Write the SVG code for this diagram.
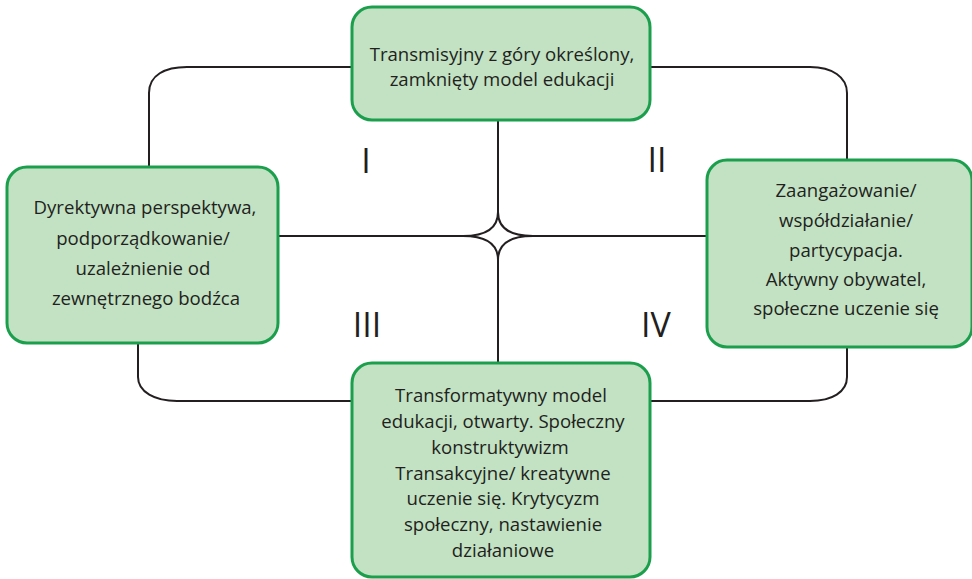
<svg xmlns="http://www.w3.org/2000/svg" width="972" height="579" viewBox="0 0 972 579">
  <style>
    .box { fill: #c2e2c3; stroke: #1c9f4c; stroke-width: 3; }
    .line { fill: none; stroke: #231f20; stroke-width: 2; }
    .label { font-family: "Open Sans", "Liberation Sans", sans-serif; font-size: 18.6px; fill: #231f20; text-anchor: middle; }
    .num { font-family: "Open Sans", "Liberation Sans", sans-serif; font-size: 34px; font-weight: 500; fill: #231f20; text-anchor: middle; }
  </style>
  <rect width="972" height="579" fill="#ffffff"/>

  <!-- connectors -->
  <g id="connectors">
    <path class="line" d="M352,67 H187 C165,67 149,75 149,93 V167"/>
    <path class="line" d="M650,67 H810 C832,67 847,77 847,93 V160"/>
    <path class="line" d="M138,343 V377 C138,392 155,401 177,401 H352"/>
    <path class="line" d="M847,347 V377 C847,392 832,401 810,401 H650"/>
    <path class="line" d="M498,120 V212 M498,260 V363 M278,236 H463 M533,236 H707"/>
    <path class="line" d="M498,212 Q498,236 533,236 Q498,236 498,260 Q498,236 463,236 Q498,236 498,212 Z"/>
  </g>

  <!-- quadrant numerals -->
  <g id="numerals">
    <text class="num" x="366" y="173">I</text>
    <text class="num" x="657" y="172">II</text>
    <text class="num" x="367" y="337">III</text>
    <text class="num" x="656" y="337">IV</text>
  </g>

  <g id="node-top">
    <rect class="box" x="352" y="7" width="298" height="113" rx="20"/>
    <text class="label" x="502" y="61">Transmisyjny z góry określony,</text>
    <text class="label" x="502" y="86">zamknięty model edukacji</text>
  </g>

  <g id="node-left">
    <rect class="box" x="7" y="167" width="271" height="176" rx="20"/>
    <text class="label" x="145" y="214">Dyrektywna perspektywa,</text>
    <text class="label" x="143" y="245">podporządkowanie/</text>
    <text class="label" x="143" y="275">uzależnienie od</text>
    <text class="label" x="146" y="305">zewnętrznego bodźca</text>
  </g>

  <g id="node-right">
    <rect class="box" x="707" y="160" width="265" height="187" rx="20"/>
    <text class="label" x="846" y="197">Zaangażowanie/</text>
    <text class="label" x="846" y="227">współdziałanie/</text>
    <text class="label" x="846" y="257">partycypacja.</text>
    <text class="label" x="846" y="286">Aktywny obywatel,</text>
    <text class="label" x="846" y="315">społeczne uczenie się</text>
  </g>

  <g id="node-bottom">
    <rect class="box" x="352" y="363" width="298" height="214" rx="20"/>
    <text class="label" x="501" y="402">Transformatywny model</text>
    <text class="label" x="503" y="428">edukacji, otwarty. Społeczny</text>
    <text class="label" x="500" y="454">konstruktywizm</text>
    <text class="label" x="503" y="480">Transakcyjne/ kreatywne</text>
    <text class="label" x="503" y="505">uczenie się. Krytycyzm</text>
    <text class="label" x="503" y="531">społeczny, nastawienie</text>
    <text class="label" x="503" y="557">działaniowe</text>
  </g>
</svg>
